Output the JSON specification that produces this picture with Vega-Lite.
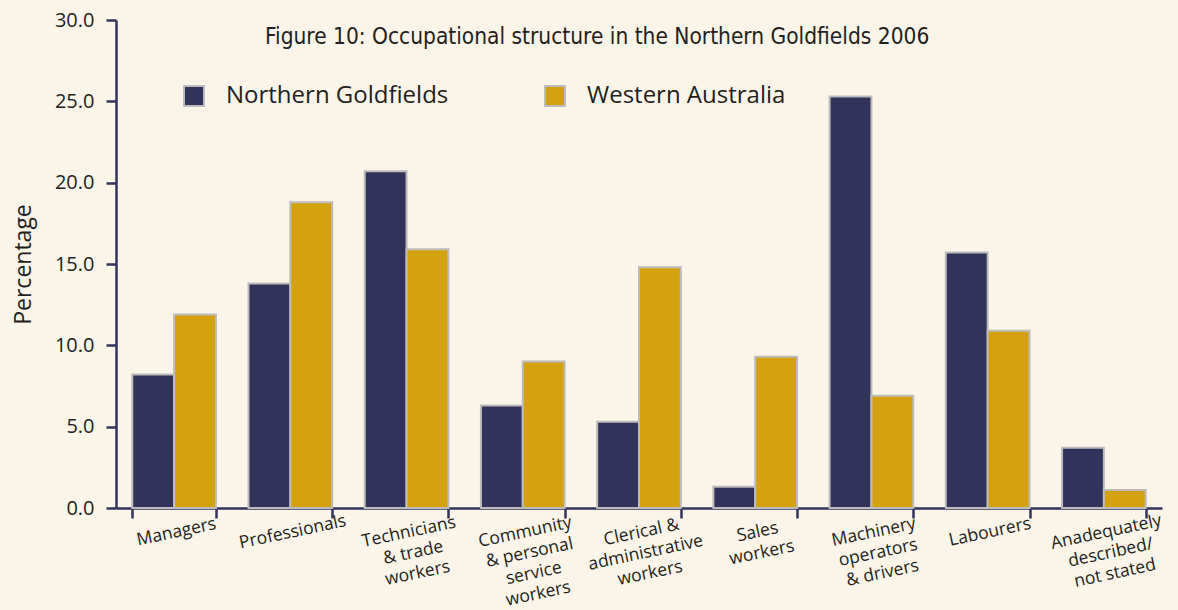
{
  "$schema": "https://vega.github.io/schema/vega-lite/v6.json",
  "autosize": {"type": "none"},
  "width": 1046,
  "height": 488,
  "padding": {"left": 116, "top": 20, "right": 16, "bottom": 102},
  "background": "#faf4e9",
  "title": {
    "text": "Figure 10: Occupational structure in the Northern Goldfields 2006",
    "anchor": "start",
    "frame": "group",
    "dx": 149,
    "dy": 42,
    "font": "DejaVu Sans Condensed, Open Sans",
    "fontSize": 22.5,
    "fontWeight": "normal",
    "color": "#231f20"
  },
  "data": {
    "values": [
      {"occupation": "Managers", "region": "Northern Goldfields", "pct": 8.2},
      {"occupation": "Managers", "region": "Western Australia", "pct": 11.9},
      {"occupation": "Professionals", "region": "Northern Goldfields", "pct": 13.8},
      {"occupation": "Professionals", "region": "Western Australia", "pct": 18.8},
      {"occupation": "Technicians|& trade|workers", "region": "Northern Goldfields", "pct": 20.7},
      {"occupation": "Technicians|& trade|workers", "region": "Western Australia", "pct": 15.9},
      {"occupation": "Community|& personal|service|workers", "region": "Northern Goldfields", "pct": 6.3},
      {"occupation": "Community|& personal|service|workers", "region": "Western Australia", "pct": 9.0},
      {"occupation": "Clerical &|administrative|workers", "region": "Northern Goldfields", "pct": 5.3},
      {"occupation": "Clerical &|administrative|workers", "region": "Western Australia", "pct": 14.8},
      {"occupation": "Sales|workers", "region": "Northern Goldfields", "pct": 1.3},
      {"occupation": "Sales|workers", "region": "Western Australia", "pct": 9.3},
      {"occupation": "Machinery|operators|& drivers", "region": "Northern Goldfields", "pct": 25.3},
      {"occupation": "Machinery|operators|& drivers", "region": "Western Australia", "pct": 6.9},
      {"occupation": "Labourers", "region": "Northern Goldfields", "pct": 15.7},
      {"occupation": "Labourers", "region": "Western Australia", "pct": 10.9},
      {"occupation": "Anadequately|described/|not stated", "region": "Northern Goldfields", "pct": 3.7},
      {"occupation": "Anadequately|described/|not stated", "region": "Western Australia", "pct": 1.1}
    ]
  },
  "mark": {"type": "bar", "stroke": "#bdbcbc", "strokeWidth": 2},
  "encoding": {
    "x": {
      "field": "occupation",
      "type": "nominal",
      "sort": null,
      "title": null,
      "scale": {"paddingInner": 0.28, "paddingOuter": 0.14},
      "axis": {
        "labelExpr": "split(datum.label, '|')",
        "labelAngle": -12,
        "labelAlign": "center",
        "labelBaseline": "top",
        "labelFont": "Open Sans",
        "labelFontSize": 17.5,
        "labelColor": "#231f20",
        "labelPadding": 5,
        "labelLineHeight": 21,
        "tickBand": "extent",
        "tickSize": 10,
        "tickWidth": 2.5,
        "tickColor": "#31335a",
        "domainColor": "#31335a",
        "domainWidth": 2.5
      }
    },
    "xOffset": {"field": "region", "type": "nominal"},
    "y": {
      "field": "pct",
      "type": "quantitative",
      "title": "Percentage",
      "scale": {"domain": [0, 30], "nice": false},
      "axis": {
        "values": [0, 5, 10, 15, 20, 25, 30],
        "format": ".1f",
        "grid": false,
        "labelFont": "Open Sans",
        "labelFontSize": 20,
        "labelColor": "#231f20",
        "labelPadding": 12,
        "tickSize": 10,
        "tickWidth": 2.5,
        "tickColor": "#31335a",
        "domainColor": "#31335a",
        "domainWidth": 2.5,
        "titleFont": "Open Sans",
        "titleFontSize": 23,
        "titleFontWeight": "normal",
        "titleColor": "#231f20",
        "titlePadding": 19
      }
    },
    "color": {
      "field": "region",
      "type": "nominal",
      "scale": {"domain": ["Northern Goldfields", "Western Australia"], "range": ["#31335a", "#d4a20f"]},
      "legend": {
        "title": null,
        "orient": "none",
        "legendX": 66,
        "legendY": 64,
        "direction": "horizontal",
        "symbolType": "square",
        "symbolSize": 400,
        "symbolStrokeColor": "#bdbcbc",
        "symbolStrokeWidth": 2,
        "symbolOpacity": 1,
        "labelFont": "Open Sans",
        "labelFontSize": 24,
        "labelColor": "#231f20",
        "labelOffset": 20,
        "columnPadding": 92,
        "labelLimit": 400
      }
    }
  },
  "config": {"view": {"stroke": null}}
}
